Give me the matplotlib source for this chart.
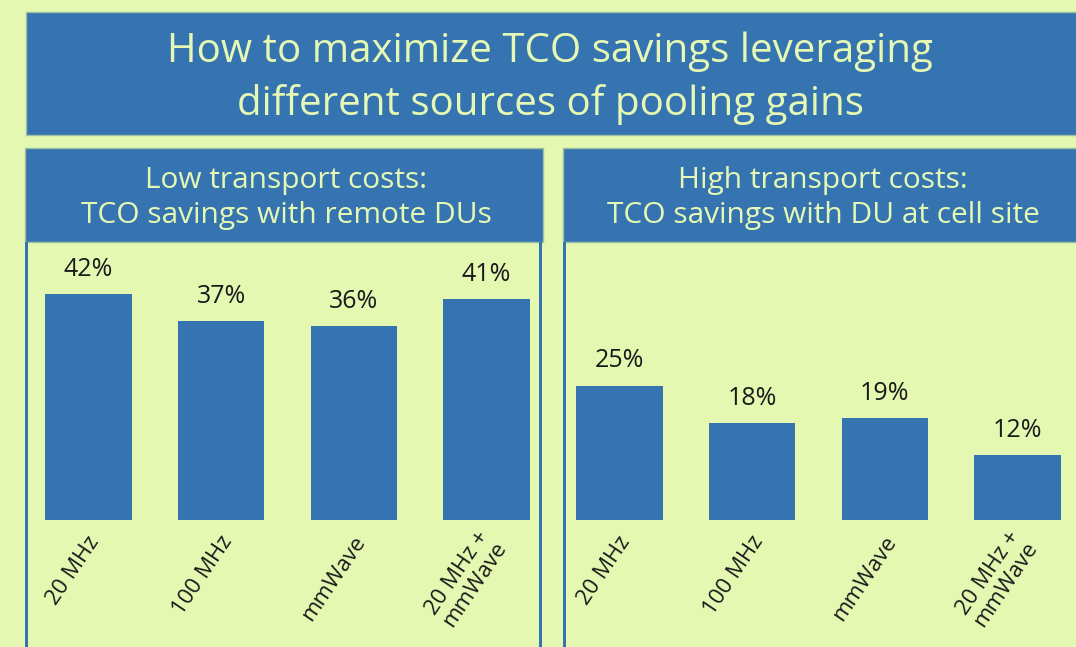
import matplotlib.pyplot as plt
from matplotlib.patches import Rectangle

# data
categories = ['20 MHz', '100 MHz', 'mmWave', '20 MHz +\nmmWave']
low_transport = [42, 37, 36, 41]
high_transport = [25, 18, 19, 12]
title = ['How to maximize TCO savings leveraging', 'different sources of pooling gains']
left_head = ['Low transport costs:', 'TCO savings with remote DUs']
right_head = ['High transport costs:', 'TCO savings with DU at cell site']

BG = '#e4f8b2'
BLUE = '#3574b1'
EDGE = '#9cc0a0'
TXT = '#e6f9b4'

W, H = 1076, 647
fig = plt.figure(figsize=(W / 100, H / 100), dpi=100)
fig.patch.set_facecolor(BG)
plt.rcParams['font.family'] = ['Open Sans', 'DejaVu Sans']


def px_rect(x0, y0, x1, y1, **kw):
    # pixel coords from top-left -> figure fraction
    r = Rectangle((x0 / W, 1 - y1 / H), (x1 - x0) / W, (y1 - y0) / H,
                  transform=fig.transFigure, **kw)
    fig.patches.append(r)


def px_lines(xc, baselines, lines, size):
    for yb, s in zip(baselines, lines):
        fig.text(xc / W, 1 - yb / H, s, ha='center', va='baseline',
                 color=TXT, fontsize=size)


# title box and panel headers
px_rect(26, 12, 1090, 135, facecolor=BLUE, edgecolor=EDGE, lw=1)
px_rect(25, 148, 543, 242, facecolor=BLUE, edgecolor=EDGE, lw=1)
px_rect(563, 148, 1090, 242, facecolor=BLUE, edgecolor=EDGE, lw=1)
# panel side borders
px_rect(25, 242, 28, 660, facecolor=BLUE, edgecolor='none')
px_rect(539, 242, 542, 660, facecolor=BLUE, edgecolor='none')
px_rect(563, 242, 566, 660, facecolor=BLUE, edgecolor='none')

px_lines(550, [62, 115], title, 29)
px_lines(286, [188, 223], left_head, 21.5)
px_lines(823, [188, 223], right_head, 21.5)


def panel(x0, values):
    base = 520
    top = 251
    ax = fig.add_axes([x0 / W, 1 - base / H, 531 / W, (base - top) / H])
    ax.set_facecolor('none')
    ax.patch.set_alpha(0)
    x = range(len(values))
    ax.bar(x, values, width=0.65, color=BLUE)
    for i, v in zip(x, values):
        ax.annotate(f'{v}%', (i, v), xytext=(0, 13), textcoords='offset points',
                    ha='center', va='baseline', fontsize=18, color='#1a1a1a')
    # rotated category labels under the bars
    for i, c in zip(x, categories):
        ax.annotate(c, (i, 0), xytext=(5, -13), textcoords='offset points',
                    rotation=56, rotation_mode='anchor', ha='right',
                    va='center', multialignment='center', linespacing=1.0,
                    fontsize=16, color='#1a1a1a', annotation_clip=False)
    ax.set_xlim(-0.5, len(values) - 0.5)
    ax.set_ylim(0, 50)
    ax.set_xticks([])
    ax.set_yticks([])
    for s in ax.spines.values():
        s.set_visible(False)
    return ax


panel(22, low_transport)
panel(553, high_transport)

fig.savefig('out.png', dpi=100, facecolor=BG)
